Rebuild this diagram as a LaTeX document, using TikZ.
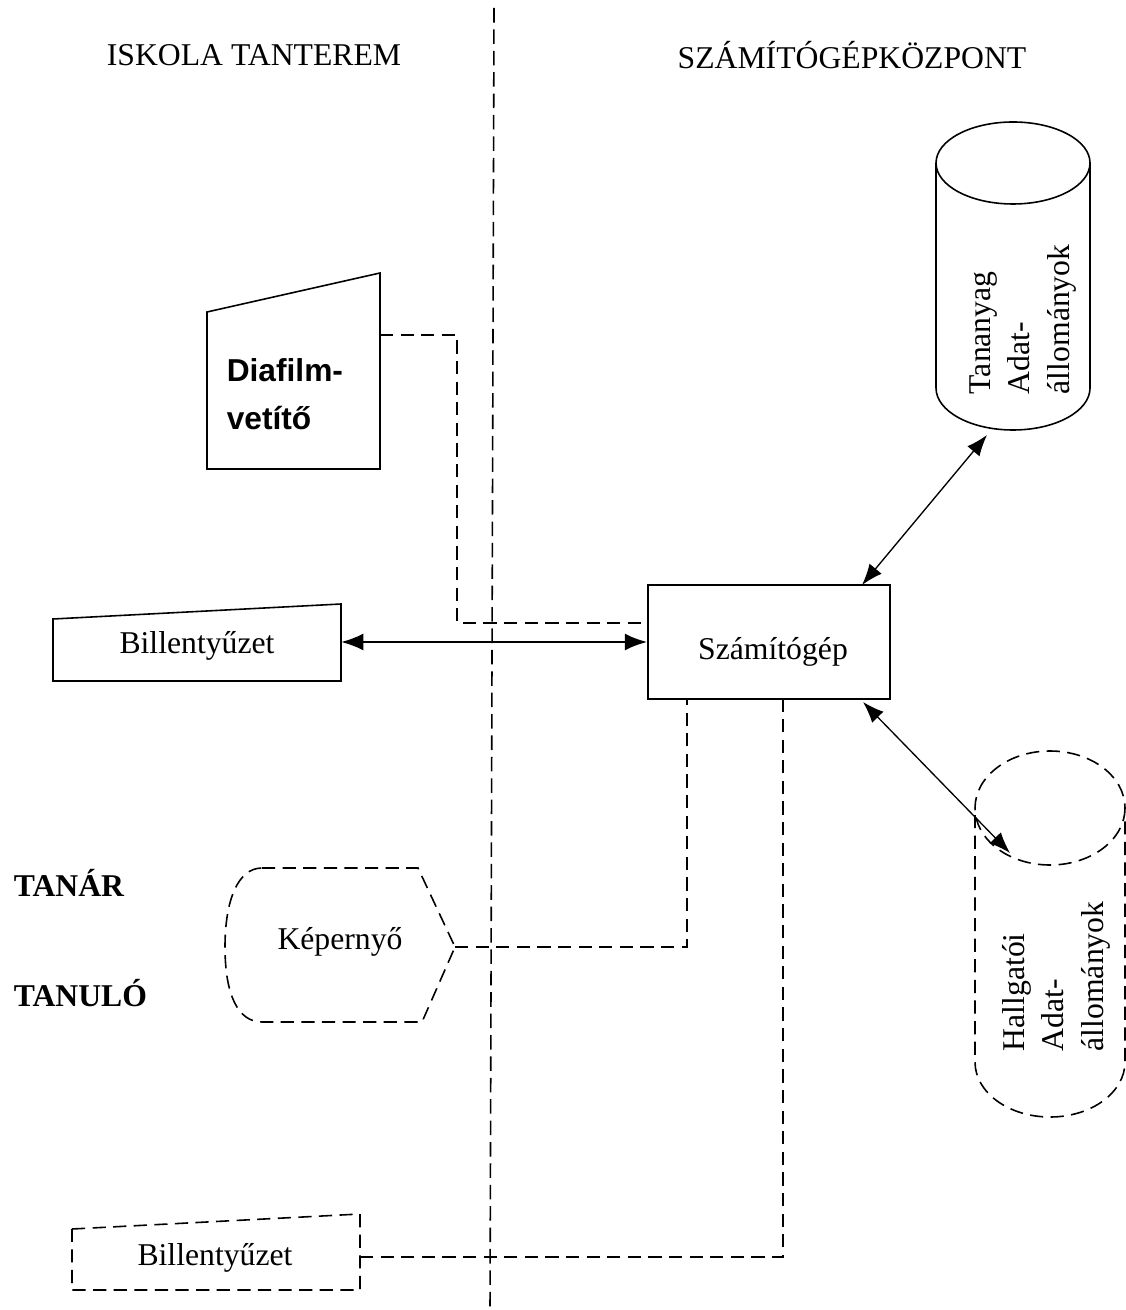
\documentclass[tikz,border=0pt]{standalone}
\usepackage{fontspec}
\setmainfont{Liberation Serif}
\setsansfont{Liberation Sans}
\usetikzlibrary{arrows.meta}
\tikzset{
  szoveg/.style={font=\fontsize{12pt}{15pt}\selectfont, inner sep=0pt},
  szagg/.style={dash pattern=on 5pt off 2.8pt},
  vastag/.style={{Latex[length=8.5pt,width=6.5pt]}-{Latex[length=8.5pt,width=6.5pt]}, line width=0.9pt},
  vekony/.style={{Latex[length=8pt,width=6pt]}-{Latex[length=8pt,width=6pt]}, line width=0.5pt}
}
\begin{document}
\begin{tikzpicture}[x=0.0133cm,y=-0.0133cm,line width=0.6pt]
\useasboundingbox (0,0) rectangle (1125,1310);
\draw[dash pattern=on 5.5pt off 2.6pt] (494,8) -- (490,1310);
\node[szoveg] (iskola) at (254,55) {ISKOLA TANTEREM};
\node[szoveg] (kozpont) at (852,55) {SZÁMÍTÓGÉPKÖZPONT};
\node[szoveg,font=\fontsize{12pt}{15pt}\selectfont\bfseries,anchor=west] (tanar) at (13,883) {TANÁR};
\node[szoveg,font=\fontsize{12pt}{15pt}\selectfont\bfseries,anchor=west] (tanulo) at (13,993) {TANULÓ};
\draw (207,312) -- (380,273) -- (380,469) -- (207,469) -- cycle;
\node[szoveg,font=\fontsize{12pt}{18pt}\selectfont\sffamily\bfseries,align=left,anchor=west] (diafilm) at (226,394) {Diafilm-\\vetítő};
\coordinate (dia-ki) at (380,335);
\draw (53,619) -- (341,604) -- (341,681) -- (53,681) -- cycle;
\node[szoveg] (bill1) at (197,646) {Billentyűzet};
\coordinate (bill1-ki) at (341,642);
\node[draw,inner sep=0pt,minimum width=3.22cm,minimum height=1.52cm] (gep) at (769,642) {};
\node[szoveg] (gep-szoveg) at (773,652) {Számítógép};
\coordinate (gep-be) at (648,623);
\coordinate (gep-le1) at (687,699);
\coordinate (gep-le2) at (783,699);
\coordinate (gep-fel) at (862,585);
\coordinate (gep-ja) at (863,702);
\draw[szagg] (262,868) -- (418,868) -- (455,947) -- (422,1022) -- (262,1022)
  .. controls (238,1022) and (225,995) .. (225,947) .. controls (225,900) and (238,868) .. (262,868);
\node[szoveg] (kep) at (340,942) {Képernyő};
\coordinate (kep-ki) at (455,947);
\draw[szagg] (72,1229) -- (360,1214) -- (360,1290) -- (72,1290) -- cycle;
\node[szoveg] (bill2) at (215,1258) {Billentyűzet};
\coordinate (bill2-ki) at (360,1257);
\draw (1013,163) ellipse[x radius=77,y radius=41];
\draw (936,163) -- (936,388) arc[start angle=180,end angle=0,x radius=77,y radius=42] -- (1090,163);
\node[szoveg,rotate=90,anchor=west,align=left] (tananyag) at (1023,395) {Tananyag\\Adat-\\állományok};
\coordinate (tan-be) at (987,435);
\draw[szagg] (1050,808) ellipse[x radius=75,y radius=57];
\draw[szagg] (975,815) -- (975,1062) arc[start angle=180,end angle=0,x radius=75,y radius=55] -- (1125,815);
\node[szoveg,rotate=90,anchor=west,align=left] (hallgatoi) at (1056,1052) {Hallgatói\\Adat-\\állományok};
\coordinate (hal-be) at (1010,853);
\draw[szagg] (dia-ki) -| (457,623) -- (gep-be);
\draw[vastag] (bill1-ki) -- (gep.west);
\draw[szagg] (kep-ki) -| (gep-le1);
\draw[szagg] (bill2-ki) -| (gep-le2);
\draw[vekony] (gep-fel) -- (tan-be);
\draw[vekony] (gep-ja) -- (hal-be);
\end{tikzpicture}
\end{document}
